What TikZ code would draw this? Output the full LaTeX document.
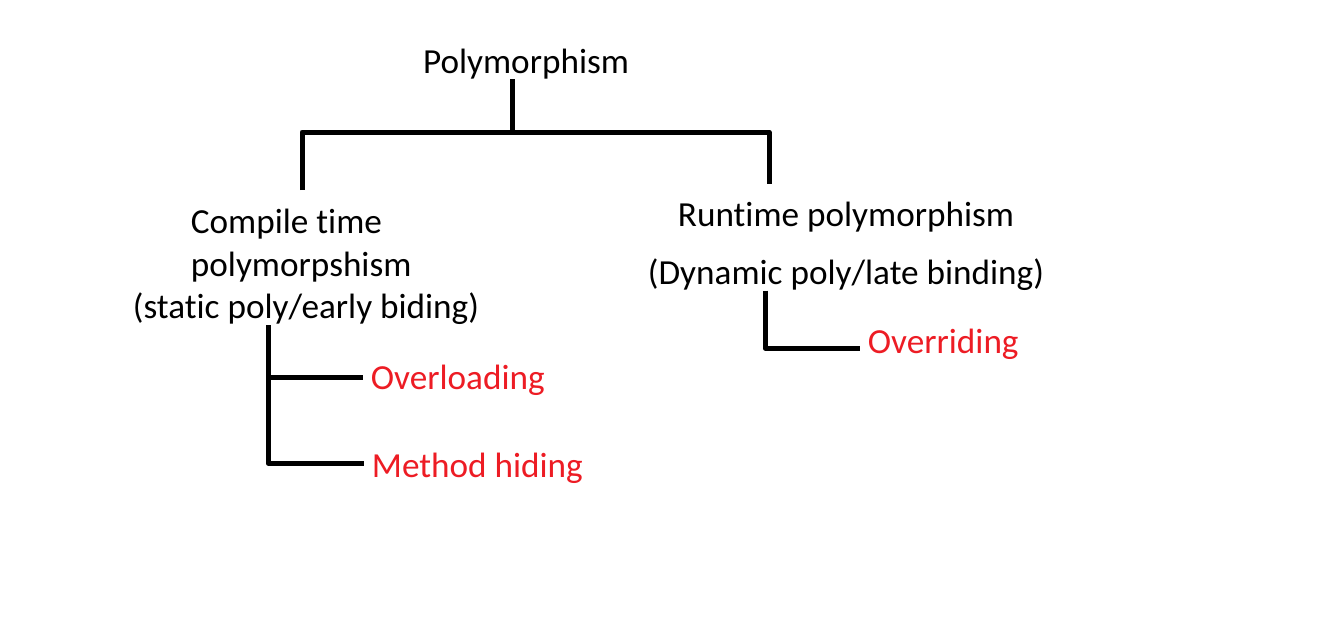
\documentclass[tikz,border=0pt]{standalone}
\usepackage{fontspec}
\setmainfont[Ligatures=NoCommon]{Carlito}
\usetikzlibrary{positioning}
\definecolor{leafred}{RGB}{237,28,36}
\tikzset{
  term/.style={inner sep=0pt,font=\fontsize{17.6}{21.25}\selectfont},
  leaf/.style={term,inner xsep=3.75pt,text=leafred,anchor=base west},
  branch/.style={line width=2.5pt,line join=round},
}

\begin{document}
\begin{tikzpicture}[x=0.5pt,y=-0.5pt]
  \useasboundingbox[fill=white] (0,0) rectangle (1326,618);
  % texts
  \node[term,anchor=base] (root) at (526,73) {Polymorphism};
  \node[term,align=left] (comp) at (306,267)
    {\hspace*{29pt}Compile time\\\hspace*{29pt}polymorpshism\\(static poly/early biding)};
  \node[term,align=center] (dyn) at (846,246)
    {Runtime polymorphism\\[7.75pt](Dynamic poly/late binding)};
  \node[leaf] (over) at (363,389) {Overloading};
  \node[leaf] (hide) at (364,477) {Method hiding};
  \node[leaf] (ride) at (860,353) {Overriding};
  % junctions
  \coordinate (hub)    at (512,132);
  \coordinate (lend)   at (302,190);
  \coordinate (rend)   at (769,184);
  \coordinate (lsplit) at (268,377);
  \coordinate (lfoot)  at (268,463);
  \coordinate (rfoot)  at (765,348);
  % connectors
  \draw[branch] (root.south -| hub) -- (hub);
  \draw[branch] (lend) |- (hub) -| (rend);
  \draw[branch] (comp.south -| lsplit) -- (lfoot) -- (lfoot -| hide.west);
  \draw[branch] (lsplit) -- (lsplit -| over.west);
  \draw[branch] (dyn.south -| rfoot) -- (rfoot) -- (rfoot -| ride.west);
\end{tikzpicture}
\end{document}
